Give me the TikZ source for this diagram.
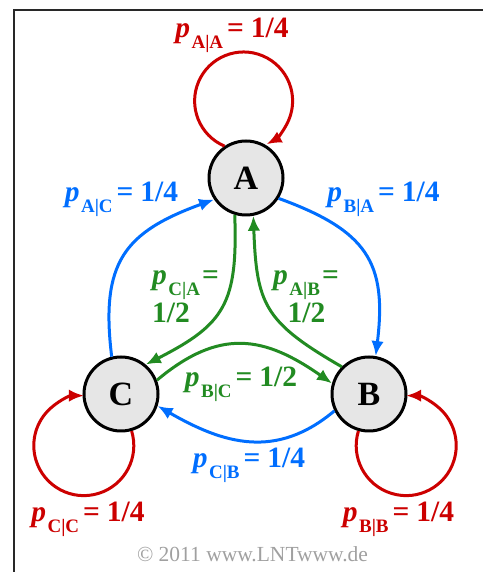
\documentclass[tikz,border=0pt]{standalone}
\usepackage{fontspec}
\setmainfont{Liberation Serif}
\usetikzlibrary{arrows.meta}
\definecolor{myred}{RGB}{204,0,0}
\definecolor{myblue}{RGB}{0,110,255}
\definecolor{mygreen}{RGB}{34,139,34}
\definecolor{nodegray}{RGB}{230,230,230}
\definecolor{textgray}{RGB}{160,160,160}
\definecolor{framegray}{RGB}{40,40,40}
\newcommand{\psub}[1]{{\itshape p}\hspace{1.5pt}\raisebox{-0.36em}{\fontsize{19pt}{19pt}\selectfont #1}}
\newcommand{\plab}[2]{\psub{#1}\hspace{4pt}=\hspace{7pt}#2}
\newcommand{\plabeq}[1]{\psub{#1}\hspace{2pt}=}
\begin{document}
\begin{tikzpicture}[x=1pt,y=1pt,
  state/.style={circle, draw=black, line width=3pt, fill=nodegray, minimum size=74pt, inner sep=0pt,
    font=\fontsize{34pt}{34pt}\selectfont\bfseries},
  lab/.style={inner sep=0pt, font=\fontsize{29.5pt}{30pt}\selectfont\bfseries},
  arr/.style={line width=3pt, -{Latex[length=15pt,width=12.5pt]}},
]
\useasboundingbox (0,0) rectangle (483,572);
\draw[line width=2pt, framegray] (14,0) -- (14,562) -- (483,562);

\node[state] (A) at (246,394) {A};
\node[state] (C) at (121,178) {C};
\node[state] (B) at (369,178) {B};

% self loops
\draw[arr, myred] (A.124) arc[start angle=247, end angle=-62, radius=49];
\draw[arr, myred] (C.-74) arc[start angle=17, end angle=-270, radius=50];
\draw[arr, myred] (B.254) arc[start angle=163, end angle=450, radius=50];

% blue
\draw[arr, myblue] (A.-32) to[out=-20, in=83, looseness=1.3] (B.80);
\draw[arr, myblue] (C.104) to[out=97, in=200, looseness=1.3] (A.214);
\draw[arr, myblue] (B.206) to[out=-140, in=-30, looseness=1.1] (C.-18);

% green
\draw[arr, mygreen] (A.253) to[out=-88, in=27, looseness=1.3] (C.50);
\draw[arr, mygreen] (B.135) to[out=150, in=-88, looseness=1.3] (A.-79);
\draw[arr, mygreen] (C.21) to[out=40, in=145, looseness=1.2] (B.164);

% labels
\node[lab, myred, anchor=base] (lAA) at (232,534) {\plab{A|A}{1/4}};
\node[lab, myblue, anchor=base] (lAC) at (121.5,370) {\plab{A|C}{1/4}};
\node[lab, myblue, anchor=base] (lBA) at (383.5,370) {\plab{B|A}{1/4}};
\node[lab, mygreen, anchor=base west] (lCA) at (152,287) {\plabeq{C|A}};
\node[lab, mygreen, anchor=base west] (lCAv) at (152,249) {1/2};
\node[lab, mygreen, anchor=base west] (lAB) at (273,287) {\plabeq{A|B}};
\node[lab, mygreen, anchor=base] (lABv) at (306.5,249) {1/2};
\node[lab, mygreen, anchor=base] (lBC) at (241,185) {\plab{B|C}{1/2}};
\node[lab, myblue, anchor=base] (lCB) at (249,104) {\plab{C|B}{1/4}};
\node[lab, myred, anchor=base] (lCC) at (88,50) {\plab{C|C}{1/4}};
\node[lab, myred, anchor=base] (lBB) at (398.5,50) {\plab{B|B}{1/4}};
\node[inner sep=0pt, anchor=base, textgray, font=\fontsize{21.5pt}{22pt}\selectfont] (copy) at (252.5,10) {© 2011 www.LNTwww.de};
\end{tikzpicture}
\end{document}
